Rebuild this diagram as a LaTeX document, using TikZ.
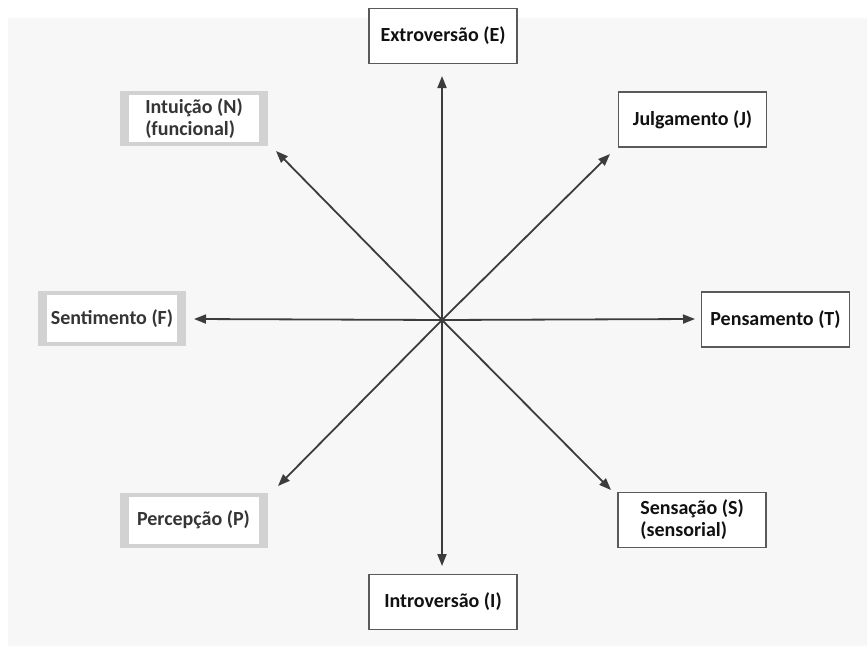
\documentclass[tikz,border=0pt]{standalone}
\usepackage{fontspec}
\setmainfont{Carlito}
\usetikzlibrary{arrows.meta}
\definecolor{arrowgray}{HTML}{3C3C3C}
\definecolor{boxline}{HTML}{5A5A5A}
\definecolor{shade}{HTML}{D2D2D2}
\definecolor{bgtex}{HTML}{F7F7F7}
\definecolor{txt}{HTML}{111111}
\tikzset{
  boxbase/.style={minimum width=148pt, minimum height=55pt, inner sep=0pt,
    font=\fontsize{20}{22}\selectfont\bfseries, align=left},
  plainbox/.style={boxbase, draw=boxline, line width=1.2pt, fill=white, text=txt},
  shadebox/.style={boxbase, fill=shade, text=txt!85,
    path picture={
      \fill[white] ([xshift=9pt,yshift=4pt]path picture bounding box.south west)
        rectangle ([xshift=-9pt,yshift=-4pt]path picture bounding box.north east);
    }},
  axis/.style={draw=arrowgray, line width=1.8pt, -{Triangle[length=12pt,width=9pt]}}
}
\begin{document}
\begin{tikzpicture}[x=1pt,y=-1pt]
\useasboundingbox (0,0) rectangle (867,648);
\fill[white] (0,0) rectangle (867,648);
\fill[bgtex] (8,18) rectangle (867,646);
% boxes
\node[plainbox] (E) at (443,36) {Extroversão (E)};
\node[shadebox] (N) at (194,118.5) {Intuição (N)\\(funcional)};
\node[plainbox] (J) at (692.5,119.5) {Julgamento (J)};
\node[shadebox] (F) at (112,318.5) {Sentimento (F)};
\node[plainbox] (T) at (775.5,319.5) {Pensamento (T)};
\node[shadebox] (P) at (193.5,520) {Percepção (P)};
\node[plainbox] (S) at (692,520) {Sensação (S)\\(sensorial)};
\node[plainbox] (I) at (443,602) {Introversão (I)};
% centre and arrow tips
\coordinate (c) at (442,320);
\coordinate (tE) at (442,76);
\coordinate (tI) at (442,566);
\coordinate (tF) at (194,319);
\coordinate (tT) at (695,319);
\coordinate (tN) at (276,151);
\coordinate (tJ) at (610,154);
\coordinate (tP) at (278,486);
\coordinate (tS) at (611,490);
\foreach \t in {tE,tI,tF,tT,tN,tJ,tP,tS} \draw[axis] (c) -- (\t);
\end{tikzpicture}
\end{document}
